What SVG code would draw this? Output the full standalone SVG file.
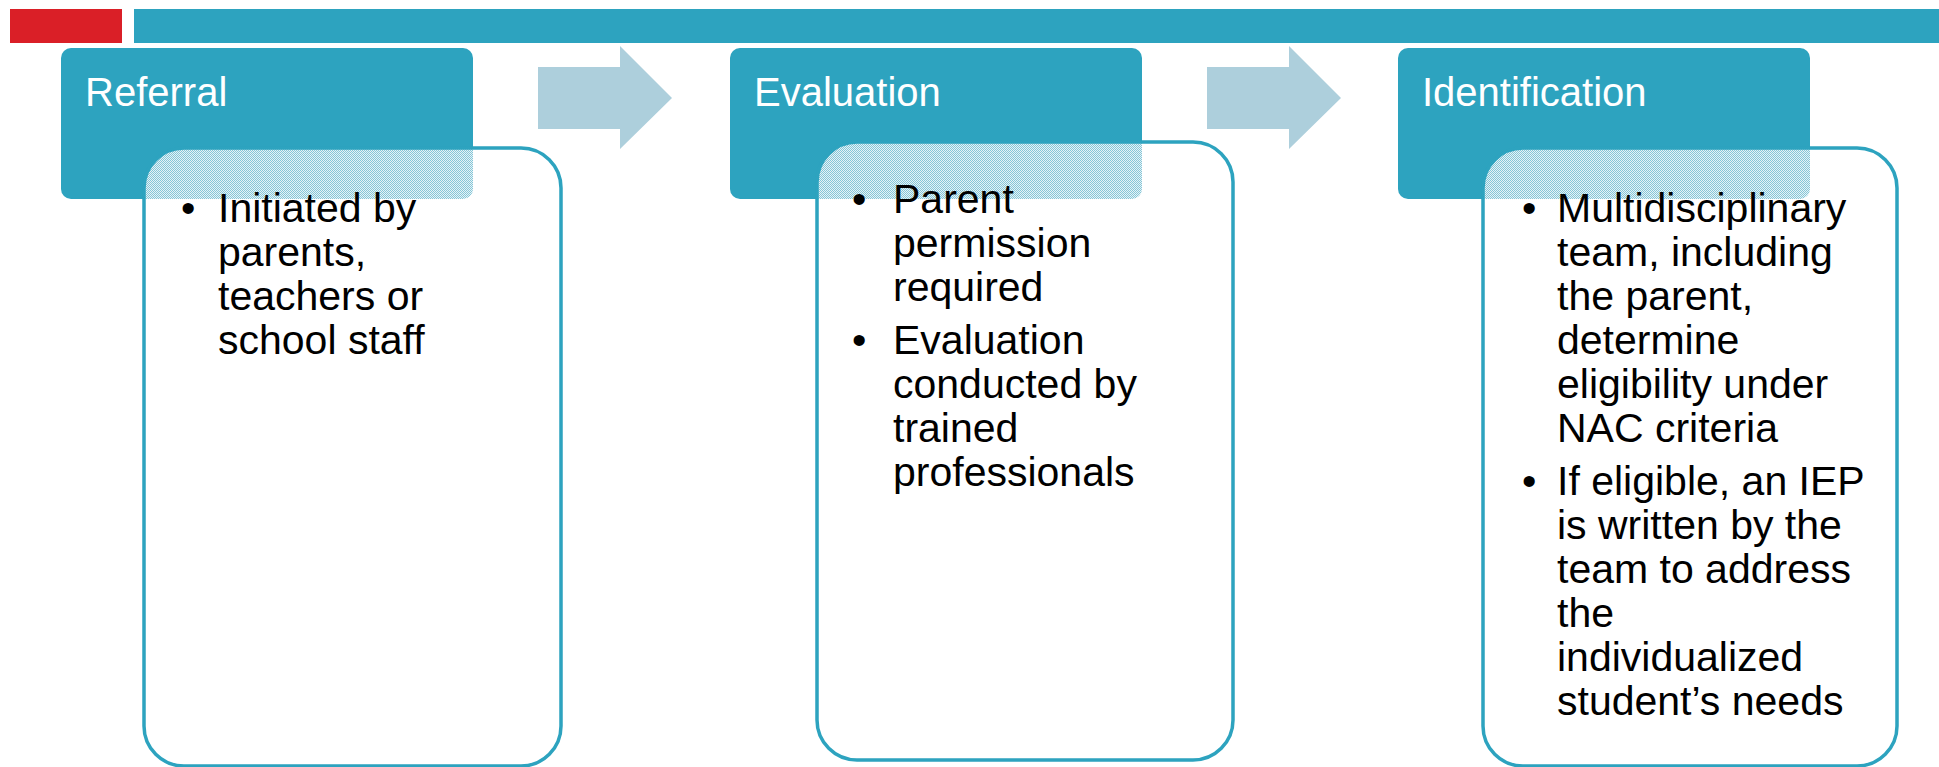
<svg xmlns="http://www.w3.org/2000/svg" width="1939" height="767" viewBox="0 0 1939 767">
<style>
.hdr{fill:#2DA3BF}
.box{fill:#FFFFFF}
.boxline{fill:none;stroke:#2DA3BF;stroke-width:3.5}
.arrow{fill:#ADCFDC}
.title{font-family:"Liberation Sans",Arial,sans-serif;font-size:40px;fill:#FFFFFF}
.body{font-family:"Liberation Sans",Arial,sans-serif;font-size:41px;fill:#000000}
</style>
<defs>
<pattern id="dots" x="0" y="0" width="2" height="2" patternUnits="userSpaceOnUse">
<rect x="0" y="0" width="2" height="2" fill="#E6F3F7"/>
<rect x="0" y="0" width="1" height="1" fill="#86C6D7"/>
<rect x="1" y="1" width="1" height="1" fill="#86C6D7"/>
</pattern>
<clipPath id="clip1"><rect x="144" y="148" width="417" height="618" rx="40" ry="40"/></clipPath>
<clipPath id="clip2"><rect x="817" y="142" width="416" height="618" rx="40" ry="40"/></clipPath>
<clipPath id="clip3"><rect x="1483" y="148" width="414" height="618" rx="40" ry="40"/></clipPath>
</defs>

<g id="topbar">
<rect x="10" y="9" width="112" height="34" fill="#DA1F27"/>
<rect x="134" y="9" width="1805" height="34" fill="#2DA3BF"/>
</g>

<g id="connectors">
<path class="arrow" d="M538,67 H620 V46 L672,98 L620,149 V129 H538 Z"/>
<path class="arrow" d="M1207,67 H1289 V46 L1341,98 L1289,149 V129 H1207 Z"/>
</g>

<g id="referral">
<rect class="hdr" x="61" y="48" width="412" height="151" rx="10" ry="10"/>
<text class="title" x="85" y="106">Referral</text>
<rect class="box" x="144" y="148" width="417" height="618" rx="40" ry="40"/>
<rect x="61" y="48" width="412" height="151" rx="10" ry="10" fill="url(#dots)" clip-path="url(#clip1)"/>
<rect class="boxline" x="144" y="148" width="417" height="618" rx="40" ry="40"/>
<text class="body" x="181" y="222">•</text>
<text class="body" x="218" y="222">Initiated by</text>
<text class="body" x="218" y="266">parents,</text>
<text class="body" x="218" y="310">teachers or</text>
<text class="body" x="218" y="354">school staff</text>
</g>

<g id="evaluation">
<rect class="hdr" x="730" y="48" width="412" height="151" rx="10" ry="10"/>
<text class="title" x="754" y="106">Evaluation</text>
<rect class="box" x="817" y="142" width="416" height="618" rx="40" ry="40"/>
<rect x="730" y="48" width="412" height="151" rx="10" ry="10" fill="url(#dots)" clip-path="url(#clip2)"/>
<rect class="boxline" x="817" y="142" width="416" height="618" rx="40" ry="40"/>
<text class="body" x="852" y="213">•</text>
<text class="body" x="893" y="213">Parent</text>
<text class="body" x="893" y="257">permission</text>
<text class="body" x="893" y="301">required</text>
<text class="body" x="852" y="354">•</text>
<text class="body" x="893" y="354">Evaluation</text>
<text class="body" x="893" y="398">conducted by</text>
<text class="body" x="893" y="442">trained</text>
<text class="body" x="893" y="486">professionals</text>
</g>

<g id="identification">
<rect class="hdr" x="1398" y="48" width="412" height="151" rx="10" ry="10"/>
<text class="title" x="1422" y="106">Identification</text>
<rect class="box" x="1483" y="148" width="414" height="618" rx="40" ry="40"/>
<rect x="1398" y="48" width="412" height="151" rx="10" ry="10" fill="url(#dots)" clip-path="url(#clip3)"/>
<rect class="boxline" x="1483" y="148" width="414" height="618" rx="40" ry="40"/>
<text class="body" x="1522" y="222">•</text>
<text class="body" x="1557" y="222">Multidisciplinary</text>
<text class="body" x="1557" y="266">team, including</text>
<text class="body" x="1557" y="310">the parent,</text>
<text class="body" x="1557" y="354">determine</text>
<text class="body" x="1557" y="398">eligibility under</text>
<text class="body" x="1557" y="442">NAC criteria</text>
<text class="body" x="1522" y="495">•</text>
<text class="body" x="1557" y="495">If eligible, an IEP</text>
<text class="body" x="1557" y="539">is written by the</text>
<text class="body" x="1557" y="583">team to address</text>
<text class="body" x="1557" y="627">the</text>
<text class="body" x="1557" y="671">individualized</text>
<text class="body" x="1557" y="715">student’s needs</text>
</g>
</svg>
